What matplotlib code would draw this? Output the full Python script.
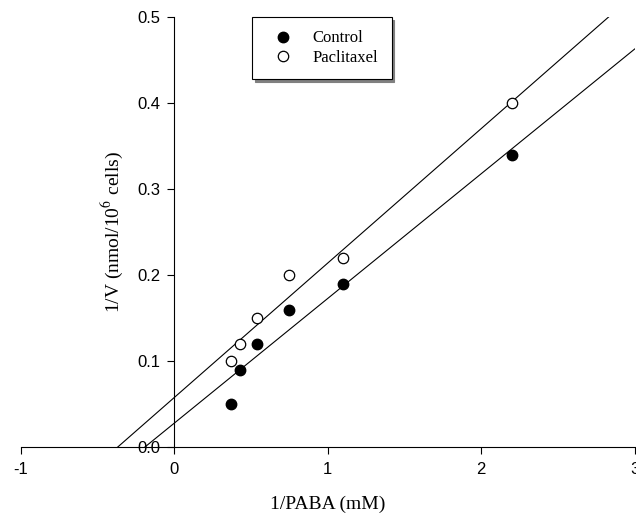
import numpy as np
import matplotlib
matplotlib.use('Agg')
import matplotlib.pyplot as plt

# 1/[PABA] (mM^-1) and 1/V values
inv_paba = np.array([0.37, 0.43, 0.54, 0.75, 1.1, 2.2])
control = np.array([0.05, 0.09, 0.12, 0.16, 0.19, 0.34])
paclitaxel = np.array([0.10, 0.12, 0.15, 0.20, 0.22, 0.40])

x_ticks = [-1, 0, 1, 2, 3]
y_ticks = [0.0, 0.1, 0.2, 0.3, 0.4, 0.5]

plt.rcParams['mathtext.fontset'] = 'stix'
serif = 'Liberation Serif'
sans = 'Liberation Sans'

fig = plt.figure(figsize=(6.36, 5.2), dpi=100)
ax = fig.add_axes([0.033, 0.140, 0.965, 0.827])

# regression lines
xfit = np.linspace(-1, 3, 200)
for yvals in (control, paclitaxel):
    slope, icpt = np.polyfit(inv_paba, yvals, 1)
    ax.plot(xfit, slope * xfit + icpt, color='black', lw=0.8, zorder=2)

ax.plot(inv_paba, control, 'o', ms=7.5, mfc='black', mec='black', label='Control', zorder=3)
ax.plot(inv_paba, paclitaxel, 'o', ms=7.5, mfc='white', mec='black', mew=0.9,
        label='Paclitaxel', zorder=3)

ax.set_xlim(-1, 3)
ax.set_ylim(0, 0.5)
ax.spines['left'].set_position(('data', 0))
ax.spines['top'].set_visible(False)
ax.spines['right'].set_visible(False)
for s in ('left', 'bottom'):
    ax.spines[s].set_linewidth(0.8)

ax.set_xticks(x_ticks)
ax.set_xticklabels([str(t) for t in x_ticks])
ax.set_yticks(y_ticks)
ax.set_yticklabels(['%.1f' % t for t in y_ticks])
ax.tick_params(direction='out', length=5, width=0.8, labelsize=12)
ax.tick_params(axis='x', pad=6)
ax.tick_params(axis='y', pad=5)
for lab in ax.get_xticklabels() + ax.get_yticklabels():
    lab.set_fontfamily(sans)

ax.set_xlabel('1/PABA (mM)', fontsize=14, fontfamily=serif)
ax.set_ylabel('1/V (nmol/10$^6$ cells)', fontsize=14, fontfamily=serif)
ax.xaxis.set_label_coords(0.5, -0.112)
ax.yaxis.set_label_coords(0.17, 0.5)

leg = ax.legend(loc='upper left', bbox_to_anchor=(0.376, 1.0), borderaxespad=0,
                prop={'family': serif, 'size': 12}, fancybox=False,
                edgecolor='black', framealpha=1,
                shadow={'color': '0.5', 'alpha': 1},
                handletextpad=0.66, borderpad=0.8, labelspacing=0.2,
                handlelength=2.2)
leg.get_frame().set_linewidth(0.8)

fig.savefig('out.png', dpi=100)
